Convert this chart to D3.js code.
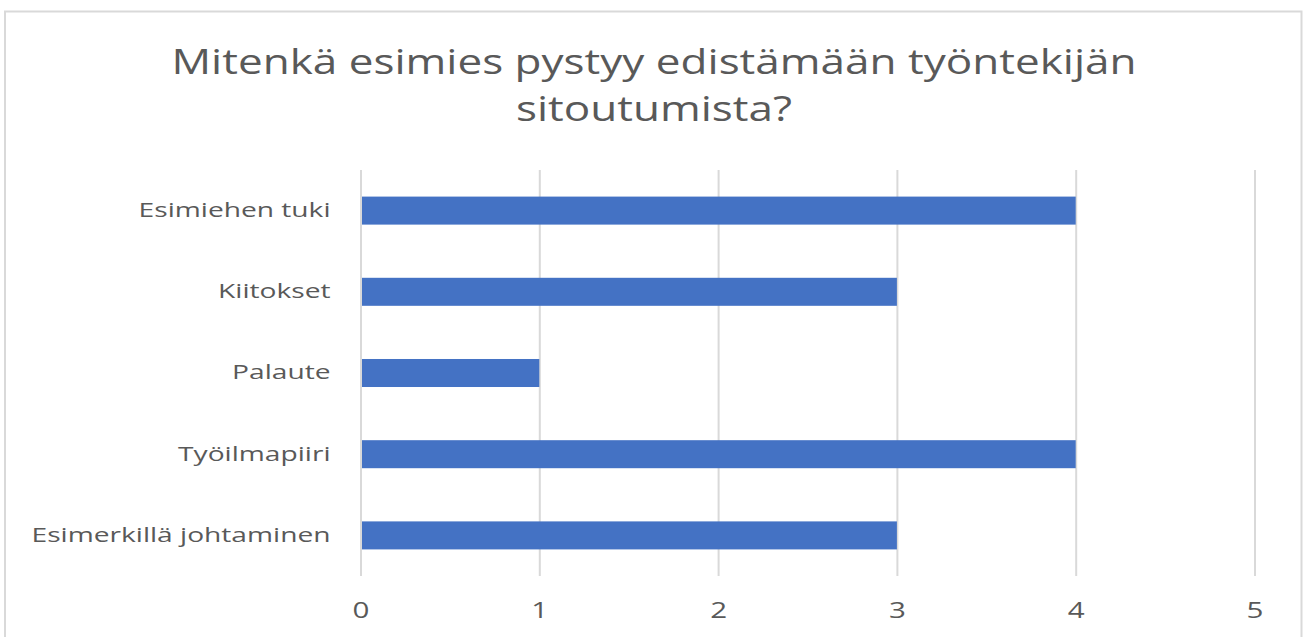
<!DOCTYPE html>
<html>
<head>
<meta charset="utf-8">
<script src="https://cdn.jsdelivr.net/npm/d3@7"></script>
<style>
  body { margin: 0; background: #fff; }
  text { font-family: "Open Sans", sans-serif; fill: #595959; }
</style>
</head>
<body>
<div id="chart"></div>
<script>
var titleLines = ["Mitenkä esimies pystyy edistämään työntekijän", "sitoutumista?"];
var categories = ["Esimiehen tuki", "Kiitokset", "Palaute", "Työilmapiiri", "Esimerkillä johtaminen"];
var values = [4, 3, 1, 4, 3];
var xTicks = [0, 1, 2, 3, 4, 5];

var width = 1304, height = 637;
var margin = {top: 170, right: 49.5, bottom: 61, left: 360.5};
var chartWidth = width - margin.left - margin.right,
    chartHeight = height - margin.top - margin.bottom;

var svg = d3.select("#chart").append("svg")
    .attr("width", width)
    .attr("height", height);

// the reference is a bit stretched sideways, so widen text to match
function stretch(sel, k) {
  sel.each(function() {
    var len = this.getComputedTextLength();
    d3.select(this).attr("textLength", len * k).attr("lengthAdjust", "spacingAndGlyphs");
  });
}

// outer frame
svg.append("rect")
    .attr("x", 5).attr("y", 11.5)
    .attr("width", 1296.5).attr("height", 640)
    .attr("fill", "none")
    .attr("stroke", "#d9d9d9")
    .attr("stroke-width", 2);

// title
var title = svg.append("g").attr("class", "title");
title.selectAll("text")
    .data(titleLines)
  .enter().append("text")
    .attr("x", 654)
    .attr("y", function(d, i) { return 74 + i * 47; })
    .attr("text-anchor", "middle")
    .style("font-size", "34px")
    .text(function(d) { return d; });

var kTitle = 965 / title.select("text").node().getComputedTextLength();
stretch(title.selectAll("text"), kTitle);

var x = d3.scaleLinear().domain([0, 5]).range([0, chartWidth]);
var y = d3.scaleBand().domain(categories).range([0, chartHeight]).paddingInner(0.655).paddingOuter(0.3275);

var g = svg.append("g")
    .attr("transform", "translate(" + margin.left + "," + margin.top + ")");

// gridlines
g.append("g")
    .attr("class", "grid")
    .call(d3.axisBottom(x).tickValues(xTicks).tickSize(chartHeight).tickFormat(""))
    .call(function(s) {
      s.select(".domain").remove();
      s.selectAll(".tick line").attr("stroke", "#d9d9d9").attr("stroke-width", 2);
    });

// bars
g.selectAll(".bar")
    .data(values)
  .enter().append("rect")
    .attr("class", "bar")
    .attr("x", x(0) + 1.5)
    .attr("y", function(d, i) { return y(categories[i]); })
    .attr("height", y.bandwidth())
    .attr("width", function(d) { return x(d) - x(0) - 1.5; })
    .attr("fill", "#4472c4");

// category labels
var yAxis = g.append("g")
    .attr("class", "y axis")
    .call(d3.axisLeft(y).tickSize(0).tickPadding(30))
    .call(function(s) {
      s.select(".domain").remove();
      s.selectAll("text").style("font-size", "20px").style("font-family", "'Open Sans', sans-serif").attr("fill", "#595959");
    });

var longest = 0;
yAxis.selectAll("text").each(function() { longest = Math.max(longest, this.getComputedTextLength()); });
var kLabel = 299 / longest;
stretch(yAxis.selectAll("text"), kLabel);

// x tick labels
var xAxis = g.append("g")
    .attr("class", "x axis")
    .attr("transform", "translate(0," + chartHeight + ")")
    .call(d3.axisBottom(x).tickValues(xTicks).tickSize(0).tickPadding(27).tickFormat(d3.format("d")))
    .call(function(s) {
      s.select(".domain").remove();
      s.selectAll("text").style("font-size", "21px").style("font-family", "'Open Sans', sans-serif").attr("fill", "#595959");
    });
stretch(xAxis.selectAll("text"), kLabel);
</script>
</body>
</html>
